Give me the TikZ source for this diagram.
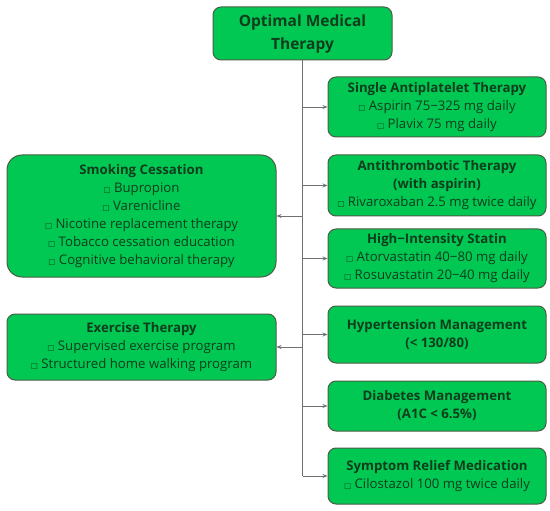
\documentclass[tikz,border=0pt]{standalone}
\usepackage{fontspec}
\setmainfont{Open Sans}
\newfontfamily\symfont{DejaVu Sans}
\usepackage{tikz}
\usetikzlibrary{positioning}
\usetikzlibrary{arrows.meta}
\usepackage{xcolor}

\definecolor{boxgreen}{HTML}{00C853}
\definecolor{boxedge}{HTML}{4B5D44}
\definecolor{txtgreen}{HTML}{103D1C}
\definecolor{linegray}{HTML}{707070}

\newcommand{\itm}{{\symfont\fontsize{7.5}{7.5}\selectfont □}\ }

\begin{document}
\begin{tikzpicture}[
  x=1pt, y=-1pt,
  font=\fontsize{13.2}{18}\selectfont,
  card/.style={draw=boxedge, line width=1pt, fill=boxgreen, text=txtgreen,
    rounded corners=8pt, align=center, inner sep=0pt},
  rightcard/.style={card, minimum width=218pt},
  leftcard/.style={card, minimum width=269pt},
  conn/.style={draw=linegray, line width=0.8pt, -{Stealth[length=5pt, width=4pt]}},
  trunk/.style={draw=linegray, line width=0.8pt}
]
\useasboundingbox (0,0) rectangle (550,511);

% Root of the tree
\node[card, minimum width=179pt, minimum height=53pt,
  font=\fontsize{15.5}{23}\selectfont\bfseries] (root) at (302.5,33.5)
  {Optimal Medical\\Therapy};

% Right column
\node[rightcard, minimum height=60pt] (sap) at (437,107)
  {\textbf{Single Antiplatelet Therapy}\\\itm Aspirin 75−325 mg daily\\\itm Plavix 75 mg daily};
\node[rightcard, minimum height=61pt] (atp) at (437,185.5)
  {\textbf{Antithrombotic Therapy}\\\textbf{(with aspirin)}\\\itm Rivaroxaban 2.5 mg twice daily};
\node[rightcard, minimum height=59pt] (his) at (437,258.5)
  {\textbf{High−Intensity Statin}\\\itm Atorvastatin 40−80 mg daily\\\itm Rosuvastatin 20−40 mg daily};
\node[rightcard, minimum height=57pt] (htn) at (437,334.5)
  {\textbf{Hypertension Management}\\\textbf{(< 130/80)}};
\node[rightcard, minimum height=50pt] (dm) at (437,406)
  {\textbf{Diabetes Management}\\\textbf{(A1C < 6.5\%)}};
\node[rightcard, minimum height=56pt] (srm) at (437,476)
  {\textbf{Symptom Relief Medication}\\\itm Cilostazol 100 mg twice daily};

% Left column
\node[leftcard, rounded corners=15pt, minimum height=122pt] (smk) at (141.5,216)
  {\textbf{Smoking Cessation}\\\itm Bupropion\\\itm Varenicline\\\itm Nicotine replacement therapy\\\itm Tobacco cessation education\\\itm Cognitive behavioral therapy};
\node[leftcard, minimum height=66pt] (exr) at (141.5,347)
  {\textbf{Exercise Therapy}\\\itm Supervised exercise program\\\itm Structured home walking program};

% Trunk and branches
\draw[trunk] (root.south) -- (root.south |- srm.west);
\foreach \b in {sap,atp,his,htn,dm,srm}
  \draw[conn] (root.south |- \b.west) -- (\b.west);
\foreach \b in {smk,exr}
  \draw[conn] (root.south |- \b.east) -- (\b.east);

\end{tikzpicture}
\end{document}
